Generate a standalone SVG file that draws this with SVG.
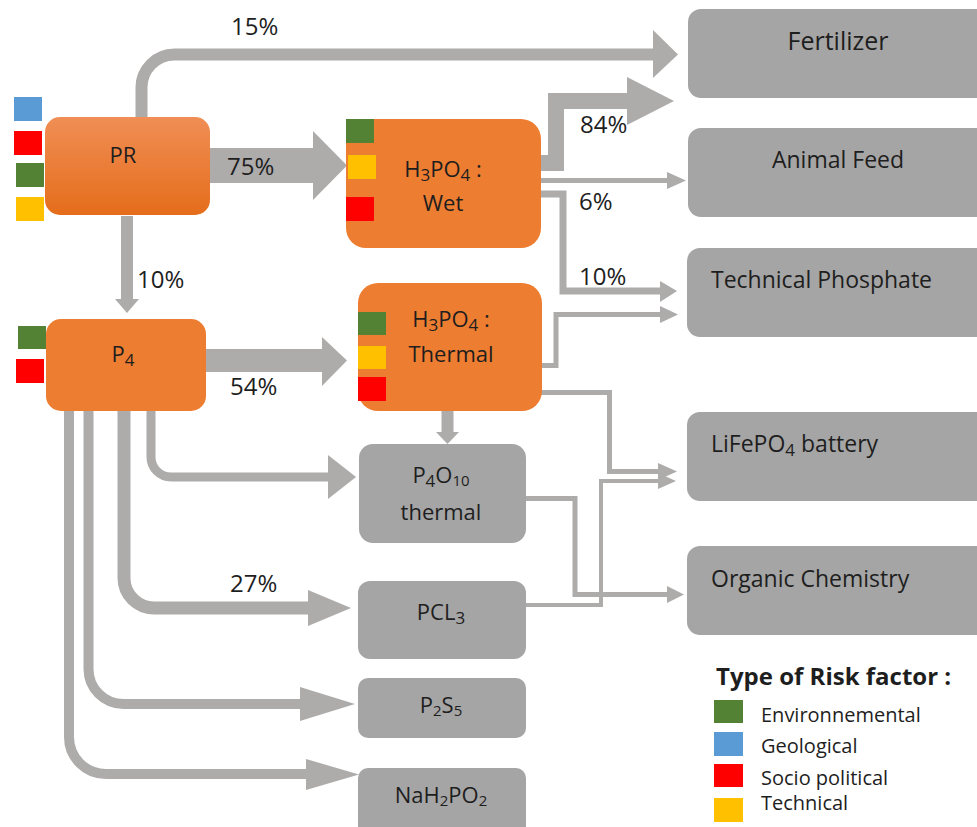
<svg xmlns="http://www.w3.org/2000/svg" width="977" height="827" viewBox="0 0 977 827">
  <defs>
    <linearGradient id="prGrad" x1="0" y1="0" x2="0" y2="1">
      <stop offset="0" stop-color="#F08E55"/>
      <stop offset="1" stop-color="#E56D1B"/>
    </linearGradient>
  </defs>
  <style>
    text { font-family: "Open Sans", "Noto Sans", "Liberation Sans", sans-serif; fill: #1E1E1E; }
    .lbl { font-size: 22px; }
    .out { font-size: 23px; }
    .big { font-size: 25px; }
    .pct { font-size: 24px; }
    .mid { text-anchor: middle; }
    .proc { fill: #ED7D31; }
    .prod { fill: #A5A5A5; }
    .flow { fill: none; stroke: #AEABAB; stroke-linejoin: miter; }
    .head { fill: #AEABAB; }
    .env { fill: #548235; }
    .geo { fill: #5B9BD5; }
    .soc { fill: #FF0000; }
    .tec { fill: #FFC000; }
    .legend-title { font-size: 24px; font-weight: bold; }
    .legend-text { font-size: 20px; }
  </style>

  <rect x="0" y="0" width="977" height="827" fill="#FFFFFF"/>

  <!-- flows between stages -->
  <g id="connectors">
    <!-- PR to Fertilizer, 15% -->
    <path class="flow" stroke-width="12" d="M141.5,118 V88 A33,33 0 0 1 174.5,54.5 H655"/>
    <polygon class="head" points="653,30 678,54.5 653,78"/>
    <!-- PR to wet acid, 75% -->
    <path class="flow" stroke-width="35" d="M206,165.5 H314"/>
    <polygon class="head" points="313,131 347,165.5 313,200"/>
    <!-- PR to P4, 10% -->
    <path class="flow" stroke-width="12" d="M127,216 V300"/>
    <polygon class="head" points="115,299 139,299 127,313"/>
    <!-- P4 to thermal acid, 54% -->
    <path class="flow" stroke-width="23" d="M205,360.5 H323"/>
    <polygon class="head" points="322,337 347,360.5 322,386"/>
    <!-- thermal acid to P4O10 -->
    <path class="flow" stroke-width="12" d="M447.5,410 V433"/>
    <polygon class="head" points="436,432 459,432 447.5,444"/>
    <!-- P4 to P4O10 -->
    <path class="flow" stroke-width="9" d="M151,410 V457 A20,20 0 0 0 171,477 H330"/>
    <polygon class="head" points="328,455 356,477 328,499"/>
    <!-- P4 to PCl3, 27% -->
    <path class="flow" stroke-width="13" d="M124,410 V578 A30,30 0 0 0 154,608 H310"/>
    <polygon class="head" points="308,590 351,608 308,626"/>
    <!-- P4 to P2S5 -->
    <path class="flow" stroke-width="10" d="M88.5,410 V669 A35,35 0 0 0 123.5,704 H302"/>
    <polygon class="head" points="300,687 355,704 300,721"/>
    <!-- P4 to NaH2PO2 -->
    <path class="flow" stroke-width="10" d="M69,410 V737 A37,37 0 0 0 106,774 H308"/>
    <polygon class="head" points="306,759 359,774.5 306,790"/>
    <!-- wet acid to Fertilizer, 84% -->
    <path class="flow" stroke-width="16" d="M541,163 H556 V101 H628"/>
    <polygon class="head" points="627,77 674,101 627,125"/>
    <!-- wet acid to Animal Feed, 6% -->
    <path class="flow" stroke-width="5" d="M541,180.5 H668"/>
    <polygon class="head" points="667,172 686,180.5 667,189"/>
    <!-- wet acid to Technical Phosphate, 10% -->
    <path class="flow" stroke-width="7" d="M541,194 H563 V291 H661"/>
    <polygon class="head" points="660,281 677,291 660,302"/>
    <!-- thermal acid to Technical Phosphate -->
    <path class="flow" stroke-width="5" d="M541,365.5 H556 V314.5 H661"/>
    <polygon class="head" points="660,306 678,314.5 660,323"/>
    <!-- thermal acid to LiFePO4 battery -->
    <path class="flow" stroke-width="5" d="M541,392.5 H609.5 V471.5 H659"/>
    <polygon class="head" points="658,463 677,471.5 658,480"/>
    <!-- PCl3 to LiFePO4 battery -->
    <path class="flow" stroke-width="4" d="M526,605 H601 V481 H659"/>
    <polygon class="head" points="658,473 676,481 658,489"/>
    <!-- P4O10 to Organic Chemistry -->
    <path class="flow" stroke-width="5" d="M526,498.5 H575 V594.5 H668"/>
    <polygon class="head" points="667,586 684,594.5 667,603"/>
  </g>

  <!-- flow shares -->
  <g id="shares" class="pct">
    <text x="231" y="35">15%</text>
    <text x="227" y="175">75%</text>
    <text x="137" y="288">10%</text>
    <text x="230" y="395">54%</text>
    <text x="230" y="592">27%</text>
    <text x="580" y="133">84%</text>
    <text x="579" y="210">6%</text>
    <text x="579" y="285">10%</text>
  </g>

  <g id="node-pr">
    <rect x="45" y="117" width="165" height="98" rx="15" fill="url(#prGrad)"/>
    <text class="lbl mid" x="123" y="163">PR</text>
    <rect class="geo" x="14" y="97" width="28" height="24"/>
    <rect class="soc" x="14" y="131" width="28" height="24"/>
    <rect class="env" x="16" y="163" width="28" height="24"/>
    <rect class="tec" x="16" y="197" width="28" height="24"/>
  </g>

  <g id="node-wet">
    <rect class="proc" x="346" y="119" width="195" height="129" rx="20"/>
    <rect class="env" x="346" y="119" width="28" height="24"/>
    <rect class="tec" x="348" y="155" width="28" height="24"/>
    <rect class="soc" x="346" y="197" width="28" height="24"/>
    <text class="lbl mid" x="443" y="177">H<tspan font-size="17" dy="4">3</tspan><tspan dy="-4">PO</tspan><tspan font-size="17" dy="4">4</tspan><tspan dy="-4"> :</tspan></text>
    <text class="lbl mid" x="443" y="211">Wet</text>
  </g>

  <g id="node-p4">
    <rect class="proc" x="46" y="319" width="160" height="92" rx="15"/>
    <rect class="env" x="18" y="326" width="28" height="23"/>
    <rect class="soc" x="16" y="359" width="28" height="24"/>
    <text class="lbl mid" x="123" y="362">P<tspan font-size="17" dy="4">4</tspan></text>
  </g>

  <g id="node-thermal">
    <rect class="proc" x="358" y="283" width="184" height="128" rx="20"/>
    <rect class="env" x="358" y="312" width="28" height="23"/>
    <rect class="tec" x="358" y="346" width="28" height="23"/>
    <rect class="soc" x="358" y="377" width="28" height="24"/>
    <text class="lbl mid" x="451" y="327">H<tspan font-size="17" dy="4">3</tspan><tspan dy="-4">PO</tspan><tspan font-size="17" dy="4">4</tspan><tspan dy="-4"> :</tspan></text>
    <text class="lbl mid" x="451" y="362">Thermal</text>
  </g>

  <g id="node-p4o10">
    <rect class="prod" x="359" y="444" width="167" height="99" rx="14"/>
    <text class="lbl mid" x="441" y="483">P<tspan font-size="17" dy="4">4</tspan><tspan dy="-4">O</tspan><tspan font-size="15" dy="3">10</tspan></text>
    <text class="lbl mid" x="441" y="520">thermal</text>
  </g>

  <g id="node-pcl3">
    <rect class="prod" x="358" y="581" width="168" height="78" rx="12"/>
    <text class="lbl mid" x="441" y="620">PCL<tspan font-size="17" dy="4">3</tspan></text>
  </g>

  <g id="node-p2s5">
    <rect class="prod" x="358" y="678" width="168" height="60" rx="10"/>
    <text class="lbl mid" x="441" y="713">P<tspan font-size="15" dy="3">2</tspan><tspan dy="-3">S</tspan><tspan font-size="15" dy="3">5</tspan></text>
  </g>

  <g id="node-nah2po2">
    <rect class="prod" x="358" y="768" width="168" height="70" rx="10"/>
    <text class="lbl mid" x="441" y="803">NaH<tspan font-size="15" dy="3">2</tspan><tspan dy="-3">PO</tspan><tspan font-size="15" dy="3">2</tspan></text>
  </g>

  <g id="node-fertilizer">
    <rect class="prod" x="688" y="9" width="320" height="89" rx="13"/>
    <text class="big mid" x="838" y="50">Fertilizer</text>
  </g>

  <g id="node-animal-feed">
    <rect class="prod" x="688" y="128" width="320" height="89" rx="13"/>
    <text class="out mid" x="838" y="168">Animal Feed</text>
  </g>

  <g id="node-technical-phosphate">
    <rect class="prod" x="687" y="248" width="320" height="89" rx="13"/>
    <text class="out" x="711" y="288">Technical Phosphate</text>
  </g>

  <g id="node-lifepo4">
    <rect class="prod" x="687" y="412" width="320" height="89" rx="13"/>
    <text class="out" x="711" y="452">LiFePO<tspan font-size="17" dy="4">4</tspan><tspan dy="-4"> battery</tspan></text>
  </g>

  <g id="node-organic">
    <rect class="prod" x="687" y="546" width="320" height="89" rx="13"/>
    <text class="out" x="711" y="587">Organic Chemistry</text>
  </g>

  <g id="legend">
    <text class="legend-title" x="716" y="685">Type of Risk factor :</text>
    <rect class="env" x="714" y="700" width="29" height="23"/>
    <rect class="geo" x="714" y="732" width="29" height="24"/>
    <rect class="soc" x="714" y="764" width="29" height="23"/>
    <rect class="tec" x="714" y="798" width="29" height="24"/>
    <text class="legend-text" x="761" y="722">Environnemental</text>
    <text class="legend-text" x="761" y="753">Geological</text>
    <text class="legend-text" x="761" y="785">Socio political</text>
    <text class="legend-text" x="761" y="810">Technical</text>
  </g>
</svg>
